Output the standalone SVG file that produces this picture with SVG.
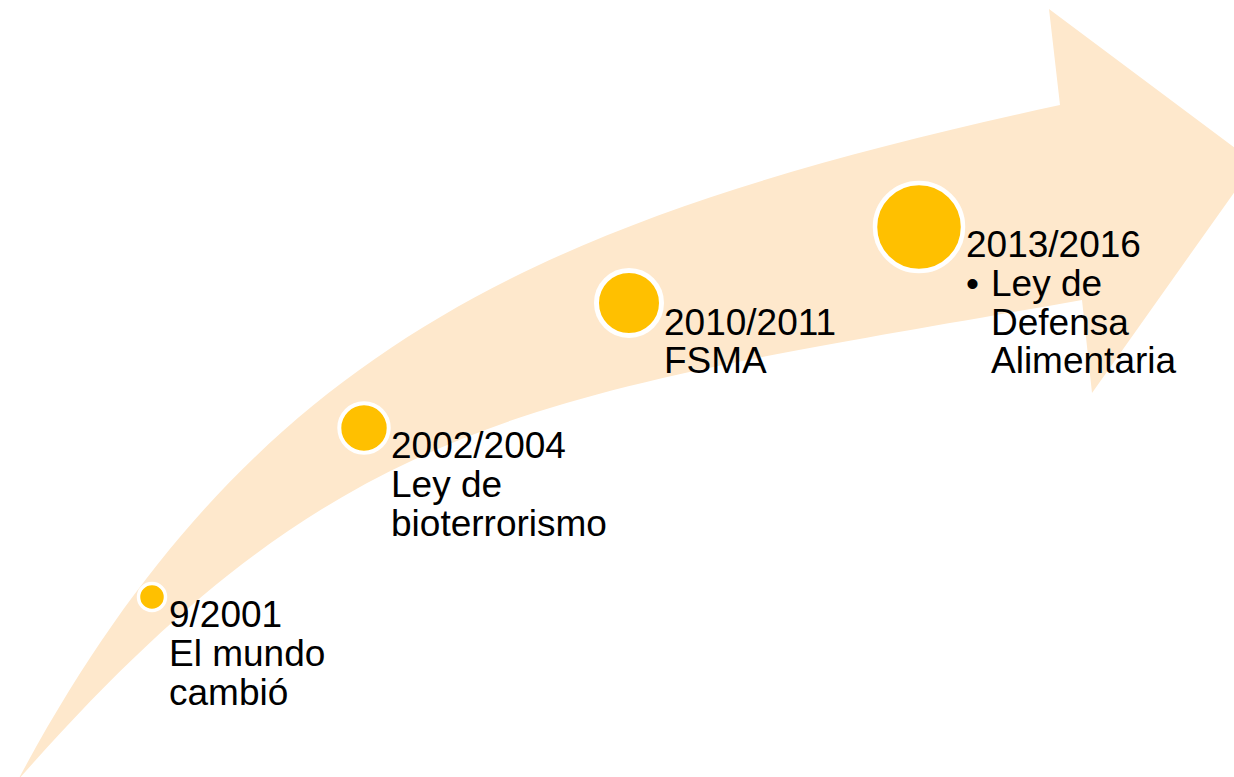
<svg xmlns="http://www.w3.org/2000/svg" width="1234" height="777" viewBox="0 0 1234 777">
<style>
.band{fill:#FEE8CC;stroke:none}
.dot{fill:#FFC000;stroke:#FFFFFF}
.lbl{font-family:"Liberation Sans",Arial,sans-serif;font-size:37px;fill:#000000}
</style>
<rect width="1234" height="777" fill="#FFFFFF"/>
<g id="arrow">
<path class="band" d="M18,780 C253,340 552,216 1060,105 L1049,9 L1255,163 L1092,393 L1082,300 C540,396 348,405 18,780 Z"/>
</g>
<g id="connectors"></g>
<g id="node-2001">
<circle class="dot" cx="152" cy="597" r="13.5" stroke-width="3.5"/>
<text class="lbl" x="169" y="627">9/2001</text>
<text class="lbl" x="169" y="666">El mundo</text>
<text class="lbl" x="169" y="705">cambió</text>
</g>
<g id="node-2002">
<circle class="dot" cx="364" cy="428" r="24.7" stroke-width="4"/>
<text class="lbl" x="391" y="458">2002/2004</text>
<text class="lbl" x="391" y="497">Ley de</text>
<text class="lbl" x="391" y="536">bioterrorismo</text>
</g>
<g id="node-2010">
<circle class="dot" cx="629" cy="303" r="32.5" stroke-width="5"/>
<text class="lbl" x="664" y="335">2010/2011</text>
<text class="lbl" x="664" y="373">FSMA</text>
</g>
<g id="node-2013">
<circle class="dot" cx="919" cy="227" r="44" stroke-width="4.5"/>
<text class="lbl" x="966" y="257">2013/2016</text>
<text class="lbl" x="966" y="296">•</text>
<text class="lbl" x="991" y="296">Ley de</text>
<text class="lbl" x="991" y="335">Defensa</text>
<text class="lbl" x="991" y="373">Alimentaria</text>
</g>
</svg>
